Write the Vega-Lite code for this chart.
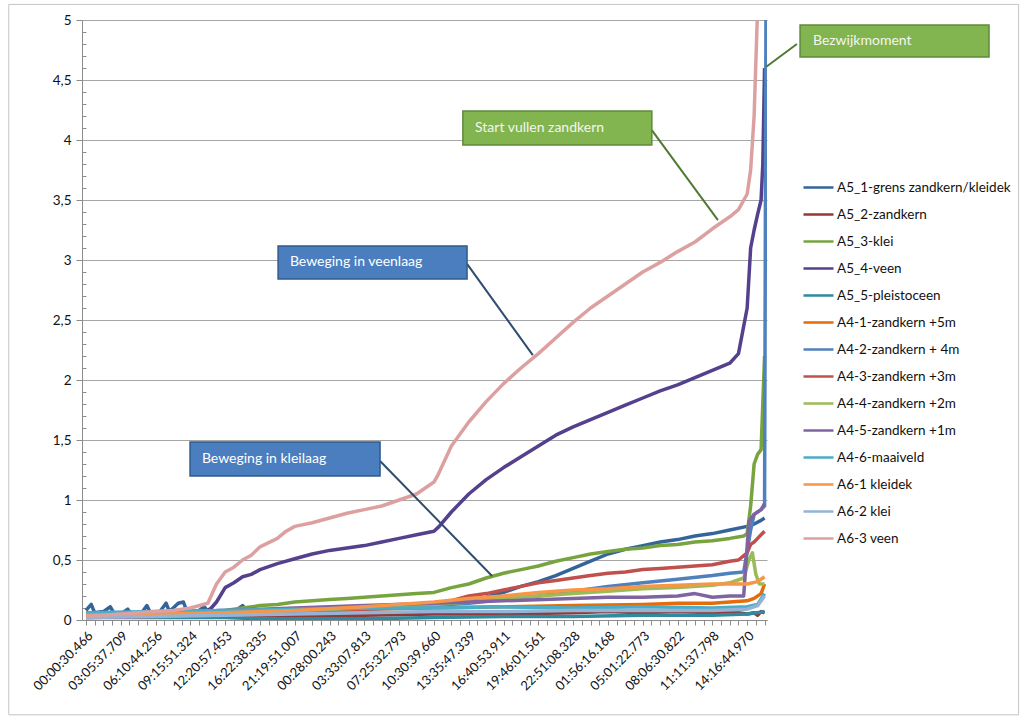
{
  "$schema": "https://vega.github.io/schema/vega-lite/v6.json",
  "autosize": {"type": "none"},
  "width": 685,
  "height": 600,
  "padding": {"left": 82, "top": 20, "right": 256, "bottom": 97},
  "background": "white",
  "config": {
    "view": {"stroke": null},
    "font": "Lato",
    "axis": {"labelFont": "Lato", "labelColor": "#111111"},
    "legend": {"labelFont": "Lato"}
  },
  "resolve": {"axis": {"x": "independent", "y": "independent"}},
  "layer": [
    {
      "data": {"values": [{}]},
      "mark": {"type": "rect", "filled": false, "stroke": "#c4c4c4", "strokeWidth": 1},
      "encoding": {
        "x": {"datum": -2.22, "type": "quantitative", "scale": {"domain": [-0.115, 19.57]}, "axis": null},
        "x2": {"datum": 26.8},
        "y": {"datum": 5.13, "type": "quantitative", "scale": {"domain": [0, 5]},
              "axis": {"orient": "left", "values": [0.1,0.2,0.3,0.4,0.6,0.7,0.8,0.9,1.1,1.2,1.3,1.4,1.6,1.7,1.8,1.9,2.1,2.2,2.3,2.4,2.6,2.7,2.8,2.9,3.1,3.2,3.3,3.4,3.6,3.7,3.8,3.9,4.1,4.2,4.3,4.4,4.6,4.7,4.8,4.9],
                       "labels": false, "domain": false, "grid": false, "tickSize": -4, "tickColor": "#8c8c8c", "title": null}},
        "y2": {"datum": -0.79}
      }
    },
    {
      "data": {"values": [
        {"s":"A5_1-grens zandkern/kleidek","x":0,"y":0.08},{"s":"A5_1-grens zandkern/kleidek","x":0.15,"y":0.13},{"s":"A5_1-grens zandkern/kleidek","x":0.25,"y":0.06},{"s":"A5_1-grens zandkern/kleidek","x":0.5,"y":0.07},{"s":"A5_1-grens zandkern/kleidek","x":0.7,"y":0.11},{"s":"A5_1-grens zandkern/kleidek","x":0.8,"y":0.06},{"s":"A5_1-grens zandkern/kleidek","x":1,"y":0.05},{"s":"A5_1-grens zandkern/kleidek","x":1.2,"y":0.09},{"s":"A5_1-grens zandkern/kleidek","x":1.3,"y":0.05},{"s":"A5_1-grens zandkern/kleidek","x":1.6,"y":0.06},{"s":"A5_1-grens zandkern/kleidek","x":1.75,"y":0.12},{"s":"A5_1-grens zandkern/kleidek","x":1.85,"y":0.06},{"s":"A5_1-grens zandkern/kleidek","x":2.1,"y":0.06},{"s":"A5_1-grens zandkern/kleidek","x":2.3,"y":0.14},{"s":"A5_1-grens zandkern/kleidek","x":2.4,"y":0.07},{"s":"A5_1-grens zandkern/kleidek","x":2.65,"y":0.14},{"s":"A5_1-grens zandkern/kleidek","x":2.8,"y":0.15},{"s":"A5_1-grens zandkern/kleidek","x":2.9,"y":0.07},{"s":"A5_1-grens zandkern/kleidek","x":3.2,"y":0.07},{"s":"A5_1-grens zandkern/kleidek","x":3.4,"y":0.11},{"s":"A5_1-grens zandkern/kleidek","x":3.5,"y":0.07},{"s":"A5_1-grens zandkern/kleidek","x":3.8,"y":0.08},{"s":"A5_1-grens zandkern/kleidek","x":4.3,"y":0.08},{"s":"A5_1-grens zandkern/kleidek","x":4.5,"y":0.12},{"s":"A5_1-grens zandkern/kleidek","x":4.6,"y":0.08},{"s":"A5_1-grens zandkern/kleidek","x":5,"y":0.07},{"s":"A5_1-grens zandkern/kleidek","x":6,"y":0.07},{"s":"A5_1-grens zandkern/kleidek","x":7,"y":0.08},{"s":"A5_1-grens zandkern/kleidek","x":8,"y":0.09},{"s":"A5_1-grens zandkern/kleidek","x":9,"y":0.1},{"s":"A5_1-grens zandkern/kleidek","x":10,"y":0.12},{"s":"A5_1-grens zandkern/kleidek","x":10.5,"y":0.14},{"s":"A5_1-grens zandkern/kleidek","x":11,"y":0.16},{"s":"A5_1-grens zandkern/kleidek","x":11.5,"y":0.19},{"s":"A5_1-grens zandkern/kleidek","x":12,"y":0.23},{"s":"A5_1-grens zandkern/kleidek","x":12.5,"y":0.28},{"s":"A5_1-grens zandkern/kleidek","x":13,"y":0.32},{"s":"A5_1-grens zandkern/kleidek","x":13.5,"y":0.37},{"s":"A5_1-grens zandkern/kleidek","x":14,"y":0.43},{"s":"A5_1-grens zandkern/kleidek","x":14.5,"y":0.49},{"s":"A5_1-grens zandkern/kleidek","x":15,"y":0.55},{"s":"A5_1-grens zandkern/kleidek","x":15.5,"y":0.59},{"s":"A5_1-grens zandkern/kleidek","x":16,"y":0.62},{"s":"A5_1-grens zandkern/kleidek","x":16.5,"y":0.65},{"s":"A5_1-grens zandkern/kleidek","x":17,"y":0.67},{"s":"A5_1-grens zandkern/kleidek","x":17.5,"y":0.7},{"s":"A5_1-grens zandkern/kleidek","x":18,"y":0.72},{"s":"A5_1-grens zandkern/kleidek","x":18.5,"y":0.75},{"s":"A5_1-grens zandkern/kleidek","x":19,"y":0.78},{"s":"A5_1-grens zandkern/kleidek","x":19.2,"y":0.8},{"s":"A5_1-grens zandkern/kleidek","x":19.4,"y":0.83},{"s":"A5_1-grens zandkern/kleidek","x":19.5,"y":0.85},

        {"s":"A5_2-zandkern","x":0,"y":0.03},{"s":"A5_2-zandkern","x":2,"y":0.03},{"s":"A5_2-zandkern","x":4,"y":0.04},{"s":"A5_2-zandkern","x":6,"y":0.03},{"s":"A5_2-zandkern","x":8,"y":0.04},{"s":"A5_2-zandkern","x":10,"y":0.05},{"s":"A5_2-zandkern","x":12,"y":0.05},{"s":"A5_2-zandkern","x":14,"y":0.06},{"s":"A5_2-zandkern","x":15,"y":0.07},{"s":"A5_2-zandkern","x":16,"y":0.06},{"s":"A5_2-zandkern","x":17,"y":0.07},{"s":"A5_2-zandkern","x":18,"y":0.06},{"s":"A5_2-zandkern","x":18.5,"y":0.07},{"s":"A5_2-zandkern","x":19,"y":0.05},{"s":"A5_2-zandkern","x":19.2,"y":0.06},{"s":"A5_2-zandkern","x":19.3,"y":0.04},{"s":"A5_2-zandkern","x":19.4,"y":0.07},{"s":"A5_2-zandkern","x":19.5,"y":0.06},

        {"s":"A5_3-klei","x":0,"y":0.02},{"s":"A5_3-klei","x":1,"y":0.03},{"s":"A5_3-klei","x":2,"y":0.04},{"s":"A5_3-klei","x":3,"y":0.06},{"s":"A5_3-klei","x":4,"y":0.08},{"s":"A5_3-klei","x":4.5,"y":0.1},{"s":"A5_3-klei","x":5,"y":0.12},{"s":"A5_3-klei","x":5.5,"y":0.13},{"s":"A5_3-klei","x":6,"y":0.15},{"s":"A5_3-klei","x":6.5,"y":0.16},{"s":"A5_3-klei","x":7,"y":0.17},{"s":"A5_3-klei","x":7.5,"y":0.18},{"s":"A5_3-klei","x":8,"y":0.19},{"s":"A5_3-klei","x":8.5,"y":0.2},{"s":"A5_3-klei","x":9,"y":0.21},{"s":"A5_3-klei","x":9.5,"y":0.22},{"s":"A5_3-klei","x":10,"y":0.23},{"s":"A5_3-klei","x":10.5,"y":0.27},{"s":"A5_3-klei","x":11,"y":0.3},{"s":"A5_3-klei","x":11.5,"y":0.35},{"s":"A5_3-klei","x":12,"y":0.39},{"s":"A5_3-klei","x":12.5,"y":0.42},{"s":"A5_3-klei","x":13,"y":0.45},{"s":"A5_3-klei","x":13.5,"y":0.49},{"s":"A5_3-klei","x":14,"y":0.52},{"s":"A5_3-klei","x":14.5,"y":0.55},{"s":"A5_3-klei","x":15,"y":0.57},{"s":"A5_3-klei","x":15.5,"y":0.59},{"s":"A5_3-klei","x":16,"y":0.6},{"s":"A5_3-klei","x":16.5,"y":0.62},{"s":"A5_3-klei","x":17,"y":0.63},{"s":"A5_3-klei","x":17.5,"y":0.65},{"s":"A5_3-klei","x":18,"y":0.66},{"s":"A5_3-klei","x":18.5,"y":0.68},{"s":"A5_3-klei","x":18.9,"y":0.7},{"s":"A5_3-klei","x":19,"y":0.72},{"s":"A5_3-klei","x":19.1,"y":0.95},{"s":"A5_3-klei","x":19.2,"y":1.3},{"s":"A5_3-klei","x":19.3,"y":1.38},{"s":"A5_3-klei","x":19.4,"y":1.42},{"s":"A5_3-klei","x":19.5,"y":2.2},

        {"s":"A5_4-veen","x":0,"y":0.04},{"s":"A5_4-veen","x":1,"y":0.05},{"s":"A5_4-veen","x":2,"y":0.06},{"s":"A5_4-veen","x":3,"y":0.07},{"s":"A5_4-veen","x":3.5,"y":0.08},{"s":"A5_4-veen","x":3.6,"y":0.1},{"s":"A5_4-veen","x":3.75,"y":0.15},{"s":"A5_4-veen","x":4,"y":0.27},{"s":"A5_4-veen","x":4.25,"y":0.31},{"s":"A5_4-veen","x":4.5,"y":0.36},{"s":"A5_4-veen","x":4.75,"y":0.38},{"s":"A5_4-veen","x":5,"y":0.42},{"s":"A5_4-veen","x":5.5,"y":0.47},{"s":"A5_4-veen","x":6,"y":0.51},{"s":"A5_4-veen","x":6.5,"y":0.55},{"s":"A5_4-veen","x":7,"y":0.58},{"s":"A5_4-veen","x":7.5,"y":0.6},{"s":"A5_4-veen","x":8,"y":0.62},{"s":"A5_4-veen","x":8.5,"y":0.65},{"s":"A5_4-veen","x":9,"y":0.68},{"s":"A5_4-veen","x":9.5,"y":0.71},{"s":"A5_4-veen","x":10,"y":0.74},{"s":"A5_4-veen","x":10.15,"y":0.78},{"s":"A5_4-veen","x":10.5,"y":0.9},{"s":"A5_4-veen","x":11,"y":1.05},{"s":"A5_4-veen","x":11.5,"y":1.17},{"s":"A5_4-veen","x":12,"y":1.27},{"s":"A5_4-veen","x":12.5,"y":1.36},{"s":"A5_4-veen","x":13,"y":1.45},{"s":"A5_4-veen","x":13.5,"y":1.54},{"s":"A5_4-veen","x":14,"y":1.61},{"s":"A5_4-veen","x":14.5,"y":1.67},{"s":"A5_4-veen","x":15,"y":1.73},{"s":"A5_4-veen","x":15.5,"y":1.79},{"s":"A5_4-veen","x":16,"y":1.85},{"s":"A5_4-veen","x":16.5,"y":1.91},{"s":"A5_4-veen","x":17,"y":1.96},{"s":"A5_4-veen","x":17.5,"y":2.02},{"s":"A5_4-veen","x":18,"y":2.08},{"s":"A5_4-veen","x":18.5,"y":2.14},{"s":"A5_4-veen","x":18.75,"y":2.22},{"s":"A5_4-veen","x":19,"y":2.6},{"s":"A5_4-veen","x":19.1,"y":3.1},{"s":"A5_4-veen","x":19.2,"y":3.25},{"s":"A5_4-veen","x":19.3,"y":3.38},{"s":"A5_4-veen","x":19.4,"y":3.5},{"s":"A5_4-veen","x":19.45,"y":3.8},{"s":"A5_4-veen","x":19.5,"y":4.6},

        {"s":"A5_5-pleistoceen","x":0,"y":0.02},{"s":"A5_5-pleistoceen","x":2,"y":0.02},{"s":"A5_5-pleistoceen","x":4,"y":0.02},{"s":"A5_5-pleistoceen","x":5,"y":0.01},{"s":"A5_5-pleistoceen","x":6,"y":0.01},{"s":"A5_5-pleistoceen","x":8,"y":0.01},{"s":"A5_5-pleistoceen","x":10,"y":0.02},{"s":"A5_5-pleistoceen","x":12,"y":0.03},{"s":"A5_5-pleistoceen","x":14,"y":0.03},{"s":"A5_5-pleistoceen","x":16,"y":0.04},{"s":"A5_5-pleistoceen","x":18,"y":0.04},{"s":"A5_5-pleistoceen","x":19,"y":0.05},{"s":"A5_5-pleistoceen","x":19.5,"y":0.07},

        {"s":"A4-1-zandkern +5m","x":0,"y":0.03},{"s":"A4-1-zandkern +5m","x":2,"y":0.04},{"s":"A4-1-zandkern +5m","x":4,"y":0.06},{"s":"A4-1-zandkern +5m","x":5,"y":0.08},{"s":"A4-1-zandkern +5m","x":6,"y":0.08},{"s":"A4-1-zandkern +5m","x":8,"y":0.09},{"s":"A4-1-zandkern +5m","x":10,"y":0.1},{"s":"A4-1-zandkern +5m","x":12,"y":0.11},{"s":"A4-1-zandkern +5m","x":14,"y":0.12},{"s":"A4-1-zandkern +5m","x":16,"y":0.13},{"s":"A4-1-zandkern +5m","x":17,"y":0.14},{"s":"A4-1-zandkern +5m","x":18,"y":0.14},{"s":"A4-1-zandkern +5m","x":18.5,"y":0.15},{"s":"A4-1-zandkern +5m","x":19,"y":0.16},{"s":"A4-1-zandkern +5m","x":19.2,"y":0.18},{"s":"A4-1-zandkern +5m","x":19.4,"y":0.22},{"s":"A4-1-zandkern +5m","x":19.5,"y":0.3},

        {"s":"A4-2-zandkern + 4m","x":0,"y":0.04},{"s":"A4-2-zandkern + 4m","x":2,"y":0.05},{"s":"A4-2-zandkern + 4m","x":4,"y":0.06},{"s":"A4-2-zandkern + 4m","x":6,"y":0.07},{"s":"A4-2-zandkern + 4m","x":8,"y":0.09},{"s":"A4-2-zandkern + 4m","x":10,"y":0.12},{"s":"A4-2-zandkern + 4m","x":11,"y":0.14},{"s":"A4-2-zandkern + 4m","x":12,"y":0.17},{"s":"A4-2-zandkern + 4m","x":13,"y":0.2},{"s":"A4-2-zandkern + 4m","x":14,"y":0.24},{"s":"A4-2-zandkern + 4m","x":15,"y":0.28},{"s":"A4-2-zandkern + 4m","x":16,"y":0.31},{"s":"A4-2-zandkern + 4m","x":17,"y":0.34},{"s":"A4-2-zandkern + 4m","x":18,"y":0.37},{"s":"A4-2-zandkern + 4m","x":18.5,"y":0.39},{"s":"A4-2-zandkern + 4m","x":18.9,"y":0.4},{"s":"A4-2-zandkern + 4m","x":19.1,"y":0.75},{"s":"A4-2-zandkern + 4m","x":19.2,"y":0.88},{"s":"A4-2-zandkern + 4m","x":19.4,"y":0.92},{"s":"A4-2-zandkern + 4m","x":19.5,"y":0.95},{"s":"A4-2-zandkern + 4m","x":19.55,"y":6},

        {"s":"A4-3-zandkern +3m","x":0,"y":0.02},{"s":"A4-3-zandkern +3m","x":2,"y":0.03},{"s":"A4-3-zandkern +3m","x":4,"y":0.05},{"s":"A4-3-zandkern +3m","x":5,"y":0.06},{"s":"A4-3-zandkern +3m","x":6,"y":0.07},{"s":"A4-3-zandkern +3m","x":7,"y":0.08},{"s":"A4-3-zandkern +3m","x":8,"y":0.09},{"s":"A4-3-zandkern +3m","x":9,"y":0.11},{"s":"A4-3-zandkern +3m","x":10,"y":0.14},{"s":"A4-3-zandkern +3m","x":10.5,"y":0.16},{"s":"A4-3-zandkern +3m","x":11,"y":0.2},{"s":"A4-3-zandkern +3m","x":11.5,"y":0.22},{"s":"A4-3-zandkern +3m","x":12,"y":0.25},{"s":"A4-3-zandkern +3m","x":12.5,"y":0.28},{"s":"A4-3-zandkern +3m","x":13,"y":0.31},{"s":"A4-3-zandkern +3m","x":13.5,"y":0.33},{"s":"A4-3-zandkern +3m","x":14,"y":0.35},{"s":"A4-3-zandkern +3m","x":14.5,"y":0.37},{"s":"A4-3-zandkern +3m","x":15,"y":0.39},{"s":"A4-3-zandkern +3m","x":15.5,"y":0.4},{"s":"A4-3-zandkern +3m","x":16,"y":0.42},{"s":"A4-3-zandkern +3m","x":16.5,"y":0.43},{"s":"A4-3-zandkern +3m","x":17,"y":0.44},{"s":"A4-3-zandkern +3m","x":17.5,"y":0.45},{"s":"A4-3-zandkern +3m","x":18,"y":0.46},{"s":"A4-3-zandkern +3m","x":18.5,"y":0.49},{"s":"A4-3-zandkern +3m","x":18.75,"y":0.5},{"s":"A4-3-zandkern +3m","x":19,"y":0.56},{"s":"A4-3-zandkern +3m","x":19.1,"y":0.63},{"s":"A4-3-zandkern +3m","x":19.2,"y":0.65},{"s":"A4-3-zandkern +3m","x":19.3,"y":0.68},{"s":"A4-3-zandkern +3m","x":19.4,"y":0.71},{"s":"A4-3-zandkern +3m","x":19.5,"y":0.74},

        {"s":"A4-4-zandkern +2m","x":0,"y":0.03},{"s":"A4-4-zandkern +2m","x":2,"y":0.04},{"s":"A4-4-zandkern +2m","x":4,"y":0.06},{"s":"A4-4-zandkern +2m","x":6,"y":0.08},{"s":"A4-4-zandkern +2m","x":8,"y":0.1},{"s":"A4-4-zandkern +2m","x":10,"y":0.13},{"s":"A4-4-zandkern +2m","x":11,"y":0.15},{"s":"A4-4-zandkern +2m","x":12,"y":0.18},{"s":"A4-4-zandkern +2m","x":13,"y":0.2},{"s":"A4-4-zandkern +2m","x":14,"y":0.22},{"s":"A4-4-zandkern +2m","x":15,"y":0.24},{"s":"A4-4-zandkern +2m","x":16,"y":0.26},{"s":"A4-4-zandkern +2m","x":17,"y":0.27},{"s":"A4-4-zandkern +2m","x":18,"y":0.29},{"s":"A4-4-zandkern +2m","x":18.5,"y":0.31},{"s":"A4-4-zandkern +2m","x":18.9,"y":0.35},{"s":"A4-4-zandkern +2m","x":19.05,"y":0.5},{"s":"A4-4-zandkern +2m","x":19.15,"y":0.56},{"s":"A4-4-zandkern +2m","x":19.25,"y":0.38},{"s":"A4-4-zandkern +2m","x":19.35,"y":0.3},{"s":"A4-4-zandkern +2m","x":19.5,"y":0.3},

        {"s":"A4-5-zandkern +1m","x":0,"y":0.05},{"s":"A4-5-zandkern +1m","x":2,"y":0.06},{"s":"A4-5-zandkern +1m","x":4,"y":0.08},{"s":"A4-5-zandkern +1m","x":6,"y":0.1},{"s":"A4-5-zandkern +1m","x":8,"y":0.12},{"s":"A4-5-zandkern +1m","x":10,"y":0.14},{"s":"A4-5-zandkern +1m","x":12,"y":0.16},{"s":"A4-5-zandkern +1m","x":14,"y":0.18},{"s":"A4-5-zandkern +1m","x":15,"y":0.19},{"s":"A4-5-zandkern +1m","x":16,"y":0.19},{"s":"A4-5-zandkern +1m","x":17,"y":0.2},{"s":"A4-5-zandkern +1m","x":17.5,"y":0.22},{"s":"A4-5-zandkern +1m","x":18,"y":0.19},{"s":"A4-5-zandkern +1m","x":18.5,"y":0.2},{"s":"A4-5-zandkern +1m","x":18.9,"y":0.2},{"s":"A4-5-zandkern +1m","x":19.05,"y":0.82},{"s":"A4-5-zandkern +1m","x":19.2,"y":0.88},{"s":"A4-5-zandkern +1m","x":19.4,"y":0.92},{"s":"A4-5-zandkern +1m","x":19.5,"y":0.97},

        {"s":"A4-6-maaiveld","x":0,"y":0.06},{"s":"A4-6-maaiveld","x":2,"y":0.07},{"s":"A4-6-maaiveld","x":4,"y":0.08},{"s":"A4-6-maaiveld","x":6,"y":0.09},{"s":"A4-6-maaiveld","x":8,"y":0.1},{"s":"A4-6-maaiveld","x":10,"y":0.1},{"s":"A4-6-maaiveld","x":12,"y":0.11},{"s":"A4-6-maaiveld","x":14,"y":0.1},{"s":"A4-6-maaiveld","x":16,"y":0.11},{"s":"A4-6-maaiveld","x":18,"y":0.1},{"s":"A4-6-maaiveld","x":19,"y":0.11},{"s":"A4-6-maaiveld","x":19.3,"y":0.13},{"s":"A4-6-maaiveld","x":19.5,"y":0.22},

        {"s":"A6-1 kleidek","x":0,"y":0.04},{"s":"A6-1 kleidek","x":2,"y":0.05},{"s":"A6-1 kleidek","x":4,"y":0.06},{"s":"A6-1 kleidek","x":6,"y":0.08},{"s":"A6-1 kleidek","x":8,"y":0.11},{"s":"A6-1 kleidek","x":10,"y":0.15},{"s":"A6-1 kleidek","x":11,"y":0.18},{"s":"A6-1 kleidek","x":12,"y":0.2},{"s":"A6-1 kleidek","x":13,"y":0.23},{"s":"A6-1 kleidek","x":14,"y":0.25},{"s":"A6-1 kleidek","x":15,"y":0.26},{"s":"A6-1 kleidek","x":16,"y":0.28},{"s":"A6-1 kleidek","x":17,"y":0.29},{"s":"A6-1 kleidek","x":18,"y":0.3},{"s":"A6-1 kleidek","x":19,"y":0.3},{"s":"A6-1 kleidek","x":19.3,"y":0.32},{"s":"A6-1 kleidek","x":19.5,"y":0.36},

        {"s":"A6-2 klei","x":0,"y":0.02},{"s":"A6-2 klei","x":2,"y":0.03},{"s":"A6-2 klei","x":4,"y":0.04},{"s":"A6-2 klei","x":6,"y":0.05},{"s":"A6-2 klei","x":8,"y":0.06},{"s":"A6-2 klei","x":10,"y":0.07},{"s":"A6-2 klei","x":12,"y":0.07},{"s":"A6-2 klei","x":14,"y":0.08},{"s":"A6-2 klei","x":16,"y":0.08},{"s":"A6-2 klei","x":18,"y":0.08},{"s":"A6-2 klei","x":19,"y":0.09},{"s":"A6-2 klei","x":19.3,"y":0.12},{"s":"A6-2 klei","x":19.5,"y":0.2},

        {"s":"A6-3 veen","x":0,"y":0.03},{"s":"A6-3 veen","x":0.5,"y":0.04},{"s":"A6-3 veen","x":1,"y":0.05},{"s":"A6-3 veen","x":1.5,"y":0.06},{"s":"A6-3 veen","x":2,"y":0.07},{"s":"A6-3 veen","x":2.5,"y":0.08},{"s":"A6-3 veen","x":3,"y":0.1},{"s":"A6-3 veen","x":3.5,"y":0.14},{"s":"A6-3 veen","x":3.75,"y":0.3},{"s":"A6-3 veen","x":4,"y":0.4},{"s":"A6-3 veen","x":4.25,"y":0.44},{"s":"A6-3 veen","x":4.5,"y":0.5},{"s":"A6-3 veen","x":4.75,"y":0.54},{"s":"A6-3 veen","x":5,"y":0.61},{"s":"A6-3 veen","x":5.5,"y":0.68},{"s":"A6-3 veen","x":5.75,"y":0.74},{"s":"A6-3 veen","x":6,"y":0.78},{"s":"A6-3 veen","x":6.5,"y":0.81},{"s":"A6-3 veen","x":7,"y":0.85},{"s":"A6-3 veen","x":7.5,"y":0.89},{"s":"A6-3 veen","x":8,"y":0.92},{"s":"A6-3 veen","x":8.5,"y":0.95},{"s":"A6-3 veen","x":9,"y":1.0},{"s":"A6-3 veen","x":9.5,"y":1.05},{"s":"A6-3 veen","x":10,"y":1.15},{"s":"A6-3 veen","x":10.1,"y":1.2},{"s":"A6-3 veen","x":10.5,"y":1.45},{"s":"A6-3 veen","x":11,"y":1.65},{"s":"A6-3 veen","x":11.5,"y":1.82},{"s":"A6-3 veen","x":12,"y":1.97},{"s":"A6-3 veen","x":12.5,"y":2.1},{"s":"A6-3 veen","x":13,"y":2.22},{"s":"A6-3 veen","x":13.5,"y":2.35},{"s":"A6-3 veen","x":14,"y":2.48},{"s":"A6-3 veen","x":14.5,"y":2.6},{"s":"A6-3 veen","x":15,"y":2.7},{"s":"A6-3 veen","x":15.5,"y":2.8},{"s":"A6-3 veen","x":16,"y":2.9},{"s":"A6-3 veen","x":16.5,"y":2.98},{"s":"A6-3 veen","x":17,"y":3.07},{"s":"A6-3 veen","x":17.5,"y":3.15},{"s":"A6-3 veen","x":18,"y":3.26},{"s":"A6-3 veen","x":18.5,"y":3.36},{"s":"A6-3 veen","x":18.75,"y":3.42},{"s":"A6-3 veen","x":19,"y":3.55},{"s":"A6-3 veen","x":19.1,"y":3.75},{"s":"A6-3 veen","x":19.2,"y":4.2},{"s":"A6-3 veen","x":19.3,"y":5.1}
      ]},
      "mark": {"type": "line", "clip": true, "strokeWidth": 3.5, "strokeJoin": "round"},
      "encoding": {
        "x": {"field": "x", "type": "quantitative", "scale": {"domain": [-0.115, 19.57]},
              "axis": {"orient": "bottom", "values": [0,0.25,0.5,0.75,1,1.25,1.5,1.75,2,2.25,2.5,2.75,3,3.25,3.5,3.75,4,4.25,4.5,4.75,5,5.25,5.5,5.75,6,6.25,6.5,6.75,7,7.25,7.5,7.75,8,8.25,8.5,8.75,9,9.25,9.5,9.75,10,10.25,10.5,10.75,11,11.25,11.5,11.75,12,12.25,12.5,12.75,13,13.25,13.5,13.75,14,14.25,14.5,14.75,15,15.25,15.5,15.75,16,16.25,16.5,16.75,17,17.25,17.5,17.75,18,18.25,18.5,18.75,19,19.25,19.5],
                       "labelExpr": "datum.value % 1 === 0 ? ['00:00:30.466','03:05:37.709','06:10:44.256','09:15:51.324','12:20:57.453','16:22:38.335','21:19:51.007','00:28:00.243','03:33:07.813','07:25:32.793','10:30:39.660','13:35:47.339','16:40:53.911','19:46:01.561','22:51:08.328','01:56:16.168','05:01:22.773','08:06:30.822','11:11:37.798','14:16:44.970'][datum.value] : ''",
                       "labelAngle": -45, "labelOverlap": false, "labelFontSize": 13, "labelPadding": 4,
                       "tickSize": 5, "tickColor": "#8c8c8c", "domainColor": "#8c8c8c", "grid": false, "title": null}},
        "y": {"field": "y", "type": "quantitative", "scale": {"domain": [0, 5]},
              "axis": {"orient": "left", "values": [0,0.5,1,1.5,2,2.5,3,3.5,4,4.5,5], "labelExpr": "replace(toString(datum.value), '.', ',')",
                       "labelFontSize": 13.5, "labelPadding": 5, "tickSize": 6, "tickColor": "#8c8c8c", "domainColor": "#8c8c8c",
                       "grid": true, "gridColor": "#a6a6a6", "gridWidth": 1, "title": null}},
        "color": {"field": "s", "type": "nominal",
                  "scale": {"domain": ["A5_1-grens zandkern/kleidek","A5_2-zandkern","A5_3-klei","A5_4-veen","A5_5-pleistoceen","A4-1-zandkern +5m","A4-2-zandkern + 4m","A4-3-zandkern +3m","A4-4-zandkern +2m","A4-5-zandkern +1m","A4-6-maaiveld","A6-1 kleidek","A6-2 klei","A6-3 veen"],
                            "range": ["#35649a","#953735","#77a43f","#54408c","#2e8a9e","#e46c0a","#4f81bd","#c0504d","#9bbb59","#8064a2","#4bacc6","#f79646","#95b3d7","#dda0a0"]},
                  "legend": {"orient": "none", "legendX": 720, "legendY": 151, "title": null, "symbolType": "stroke", "symbolSize": 900,
                             "symbolStrokeWidth": 2.5, "labelFontSize": 13.5, "labelColor": "#111111", "labelLimit": 260, "rowPadding": 4, "labelOffset": 2, "padding": 0}}
      }
    },
    {
      "data": {"values": [{}]},
      "mark": {"type": "rule", "stroke": "#2f4d6e", "strokeWidth": 2},
      "encoding": {"x": {"datum": 10.95, "type": "quantitative", "scale": {"domain": [-0.115, 19.57]}, "axis": null}, "y": {"datum": 2.967, "type": "quantitative", "scale": {"domain": [0, 5]}, "axis": null}, "x2": {"datum": 12.84}, "y2": {"datum": 2.208}}
    },
    {
      "data": {"values": [{}]},
      "mark": {"type": "rule", "stroke": "#2f4d6e", "strokeWidth": 2},
      "encoding": {"x": {"datum": 8.45, "type": "quantitative", "scale": {"domain": [-0.115, 19.57]}, "axis": null}, "y": {"datum": 1.325, "type": "quantitative", "scale": {"domain": [0, 5]}, "axis": null}, "x2": {"datum": 11.67}, "y2": {"datum": 0.367}}
    },
    {
      "data": {"values": [{}]},
      "mark": {"type": "rule", "stroke": "#4f7a32", "strokeWidth": 2},
      "encoding": {"x": {"datum": 16.26, "type": "quantitative", "scale": {"domain": [-0.115, 19.57]}, "axis": null}, "y": {"datum": 4.083, "type": "quantitative", "scale": {"domain": [0, 5]}, "axis": null}, "x2": {"datum": 18.16}, "y2": {"datum": 3.333}}
    },
    {
      "data": {"values": [{}]},
      "mark": {"type": "rule", "stroke": "#4f7a32", "strokeWidth": 2},
      "encoding": {"x": {"datum": 20.43, "type": "quantitative", "scale": {"domain": [-0.115, 19.57]}, "axis": null}, "y": {"datum": 4.8, "type": "quantitative", "scale": {"domain": [0, 5]}, "axis": null}, "x2": {"datum": 19.54}, "y2": {"datum": 4.608}}
    },
    {
      "data": {"values": [{}]},
      "mark": {"type": "rect", "fill": "#4a7ebf", "stroke": "#2f5a8a", "strokeWidth": 1.5},
      "encoding": {"x": {"datum": 5.52, "type": "quantitative", "scale": {"domain": [-0.115, 19.57]}, "axis": null}, "x2": {"datum": 10.95}, "y": {"datum": 3.117, "type": "quantitative", "scale": {"domain": [0, 5]}, "axis": null}, "y2": {"datum": 2.842}}
    },
    {
      "data": {"values": [{}]},
      "mark": {"type": "rect", "fill": "#4a7ebf", "stroke": "#2f5a8a", "strokeWidth": 1.5},
      "encoding": {"x": {"datum": 2.99, "type": "quantitative", "scale": {"domain": [-0.115, 19.57]}, "axis": null}, "x2": {"datum": 8.45}, "y": {"datum": 1.483, "type": "quantitative", "scale": {"domain": [0, 5]}, "axis": null}, "y2": {"datum": 1.2}}
    },
    {
      "data": {"values": [{}]},
      "mark": {"type": "rect", "fill": "#82b450", "stroke": "#5e8a3a", "strokeWidth": 1.5},
      "encoding": {"x": {"datum": 10.83, "type": "quantitative", "scale": {"domain": [-0.115, 19.57]}, "axis": null}, "x2": {"datum": 16.26}, "y": {"datum": 4.242, "type": "quantitative", "scale": {"domain": [0, 5]}, "axis": null}, "y2": {"datum": 3.958}}
    },
    {
      "data": {"values": [{}]},
      "mark": {"type": "rect", "fill": "#82b450", "stroke": "#5e8a3a", "strokeWidth": 1.5},
      "encoding": {"x": {"datum": 20.52, "type": "quantitative", "scale": {"domain": [-0.115, 19.57]}, "axis": null}, "x2": {"datum": 25.95}, "y": {"datum": 4.958, "type": "quantitative", "scale": {"domain": [0, 5]}, "axis": null}, "y2": {"datum": 4.692}}
    },
    {
      "data": {"values": [{}]},
      "mark": {"type": "text", "align": "left", "baseline": "middle", "color": "white", "fontSize": 14, "font": "Lato"},
      "encoding": {"x": {"datum": 5.86, "type": "quantitative", "scale": {"domain": [-0.115, 19.57]}, "axis": null}, "y": {"datum": 2.983, "type": "quantitative", "scale": {"domain": [0, 5]}, "axis": null}, "text": {"value": "Beweging in veenlaag"}}
    },
    {
      "data": {"values": [{}]},
      "mark": {"type": "text", "align": "left", "baseline": "middle", "color": "white", "fontSize": 14, "font": "Lato"},
      "encoding": {"x": {"datum": 3.33, "type": "quantitative", "scale": {"domain": [-0.115, 19.57]}, "axis": null}, "y": {"datum": 1.342, "type": "quantitative", "scale": {"domain": [0, 5]}, "axis": null}, "text": {"value": "Beweging in kleilaag"}}
    },
    {
      "data": {"values": [{}]},
      "mark": {"type": "text", "align": "left", "baseline": "middle", "color": "#f4f6ee", "fontSize": 14, "font": "Lato"},
      "encoding": {"x": {"datum": 11.18, "type": "quantitative", "scale": {"domain": [-0.115, 19.57]}, "axis": null}, "y": {"datum": 4.1, "type": "quantitative", "scale": {"domain": [0, 5]}, "axis": null}, "text": {"value": "Start vullen  zandkern"}}
    },
    {
      "data": {"values": [{}]},
      "mark": {"type": "text", "align": "left", "baseline": "middle", "color": "#f4f6ee", "fontSize": 14, "font": "Lato"},
      "encoding": {"x": {"datum": 20.89, "type": "quantitative", "scale": {"domain": [-0.115, 19.57]}, "axis": null}, "y": {"datum": 4.825, "type": "quantitative", "scale": {"domain": [0, 5]}, "axis": null}, "text": {"value": "Bezwijkmoment"}}
    }
  ]
}
